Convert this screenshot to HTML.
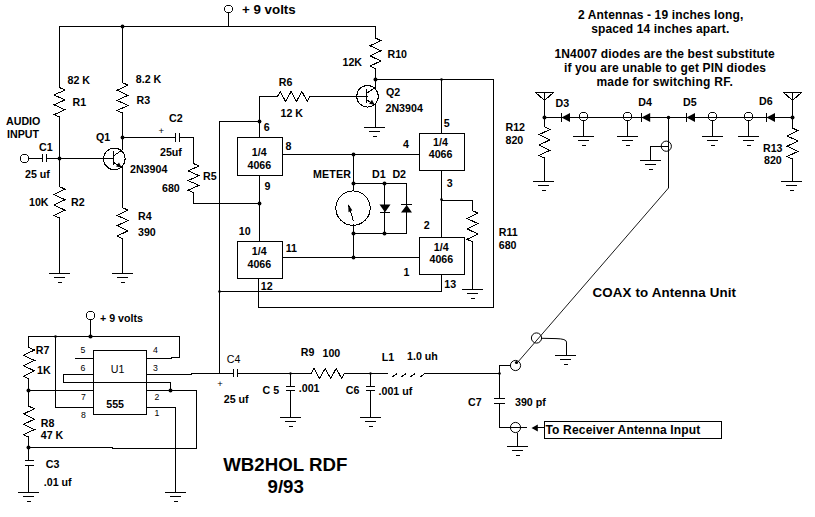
<!DOCTYPE html>
<html><head><meta charset="utf-8"><title>WB2HOL RDF</title>
<style>
html,body{margin:0;padding:0;background:#fff;}
body{width:815px;height:517px;overflow:hidden;}
svg{display:block;}
text{font-family:"Liberation Sans",sans-serif;fill:#000;}
</style></head><body>
<svg width="815" height="517" viewBox="0 0 815 517">
<rect x="0" y="0" width="815" height="517" fill="#fff"/>
<polygon points="581.5,112.5 585.5,112.5 587.5,114.5 587.5,118.5 585.5,120.5 581.5,120.5 579.5,118.5 579.5,114.5" fill="none" stroke="#000" stroke-width="1"/>
<polygon points="625.5,112.5 629.5,112.5 631.5,114.5 631.5,118.5 629.5,120.5 625.5,120.5 623.5,118.5 623.5,114.5" fill="none" stroke="#000" stroke-width="1"/>
<polygon points="710.5,112.5 714.5,112.5 716.5,114.5 716.5,118.5 714.5,120.5 710.5,120.5 708.5,118.5 708.5,114.5" fill="none" stroke="#000" stroke-width="1"/>
<polygon points="746.5,112.5 750.5,112.5 752.5,114.5 752.5,118.5 750.5,120.5 746.5,120.5 744.5,118.5 744.5,114.5" fill="none" stroke="#000" stroke-width="1"/>
<path d="M59.0 26.5L376.0 26.5 M228.5 13.0L228.5 27.0 M59.5 26.0L59.5 88.0 M59.50 87.60L65.00 90.06L54.00 94.97L65.00 99.89L54.00 104.81L65.00 109.72L54.00 114.64L59.50 117.10 M59.5 116.0L59.5 187.0 M59.50 186.60L65.00 189.22L54.00 194.47L65.00 199.72L54.00 204.97L65.00 210.22L54.00 215.47L59.50 218.10 M59.5 217.0L59.5 274.0 M49.0 273.5L70.0 273.5 M54.0 277.5L65.0 277.5 M58.0 282.5L62.0 282.5 M122.5 26.0L122.5 83.0 M122.50 82.60L128.00 85.14L117.00 90.22L128.00 95.31L117.00 100.39L128.00 105.47L117.00 110.56L122.50 113.10 M122.5 112.0L122.5 150.0 M113.5 151.0L113.5 165.0 M113.50 155.90L122.50 149.90 M113.50 162.40L122.50 167.90 M122.5 167.0L122.5 208.0 M122.50 207.60L128.00 210.18L117.00 215.35L128.00 220.52L117.00 225.68L128.00 230.85L117.00 236.02L122.50 238.60 M122.5 238.0L122.5 274.0 M112.0 273.5L133.0 273.5 M117.0 277.5L128.0 277.5 M121.0 282.5L125.0 282.5 M29.0 158.5L43.0 158.5 M42.5 154.0L42.5 162.0 M46.5 154.0L46.5 162.0 M47.0 158.5L114.0 158.5 M122.0 137.5L176.0 137.5 M175.5 133.0L175.5 142.0 M179.5 133.0L179.5 142.0 M180.0 137.5L194.0 137.5 M193.5 137.0L193.5 164.0 M193.50 163.60L199.00 166.02L188.00 170.85L199.00 175.68L188.00 180.52L199.00 185.35L188.00 190.18L193.50 192.60 M193.5 192.0L193.5 204.0 M193.0 203.5L260.0 203.5 M375.5 26.0L375.5 38.0 M375.50 38.10L381.00 40.64L370.00 45.73L381.00 50.81L370.00 55.89L381.00 60.98L370.00 66.06L375.50 68.60 M375.5 68.0L375.5 88.0 M366.5 89.0L366.5 103.0 M366.50 93.30L375.50 87.30 M366.50 99.80L375.50 105.30 M375.5 104.0L375.5 128.0 M364.0 127.5L385.0 127.5 M369.0 131.5L380.0 131.5 M373.0 136.5L377.0 136.5 M310.0 96.5L368.0 96.5 M277.50 96.50L280.21 91.50L285.62 101.50L291.04 91.50L296.46 101.50L301.88 91.50L307.29 101.50L310.00 96.50 M259.0 96.5L278.0 96.5 M259.5 96.0L259.5 138.0 M219.0 121.5L260.0 121.5 M219.5 121.0L219.5 374.0 M259.5 175.0L259.5 242.0 M258.5 278.0L258.5 308.0 M258.0 307.5L494.0 307.5 M493.5 79.0L493.5 308.0 M375.0 79.5L494.0 79.5 M219.0 291.5L442.0 291.5 M441.5 274.0L441.5 292.0 M282.0 154.5L420.0 154.5 M353.5 154.0L353.5 191.0 M353.5 224.0L353.5 258.0 M282.0 257.5L420.0 257.5 M353.0 183.5L407.0 183.5 M353.0 233.5L407.0 233.5 M384.5 183.0L384.5 234.0 M406.5 183.0L406.5 234.0 M353.40 220.90L348.50 204.80 M380.0 212.5L390.0 212.5 M401.0 204.5L412.0 204.5 M441.5 79.0L441.5 134.0 M441.5 170.0L441.5 238.0 M441.0 200.5L473.0 200.5 M472.5 200.0L472.5 211.0 M472.50 210.60L478.00 213.20L467.00 218.41L478.00 223.62L467.00 228.83L478.00 234.04L467.00 239.25L472.50 241.85 M472.5 241.0L472.5 290.0 M462.0 289.5L483.0 289.5 M467.0 293.5L478.0 293.5 M471.0 298.5L475.0 298.5 M90.5 320.0L90.5 337.0 M28.0 336.5L180.0 336.5 M28.5 336.0L28.5 348.0 M28.50 347.40L34.50 350.02L23.50 355.25L34.50 360.48L23.50 365.72L34.50 370.95L23.50 376.18L28.50 378.80 M28.5 378.0L28.5 406.0 M28.50 406.10L34.50 408.70L23.50 413.91L34.50 419.12L23.50 424.33L34.50 429.54L23.50 434.75L28.50 437.35 M28.5 436.0L28.5 461.0 M55.5 336.0L55.5 408.0 M55.0 407.5L94.0 407.5 M179.5 336.0L179.5 358.0 M146.0 358.5L172.0 358.5 M171.0 357.5L180.0 357.5 M75.0 358.5L94.0 358.5 M63.0 374.5L94.0 374.5 M63.5 374.0L63.5 383.0 M63.0 382.5L171.0 382.5 M170.5 382.0L170.5 391.0 M146.0 374.5L192.0 374.5 M191.0 373.5L234.0 373.5 M28.0 390.5L94.0 390.5 M146.0 390.5L197.0 390.5 M196.5 390.0L196.5 449.0 M28.0 447.5L113.0 447.5 M112.0 448.5L197.0 448.5 M146.0 407.5L176.0 407.5 M175.5 407.0L175.5 493.0 M165.0 492.5L186.0 492.5 M170.0 496.5L181.0 496.5 M174.0 501.5L178.0 501.5 M25.0 460.5L34.0 460.5 M25.0 465.5L34.0 465.5 M28.5 465.0L28.5 493.0 M18.0 492.5L39.0 492.5 M23.0 496.5L34.0 496.5 M27.0 501.5L31.0 501.5 M233.5 369.0L233.5 377.0 M237.5 369.0L237.5 377.0 M238.0 373.5L312.0 373.5 M311.25 373.50L314.02 368.50L319.56 378.50L325.10 368.50L330.65 378.50L336.19 368.50L341.73 378.50L344.50 373.50 M344.0 373.5L388.0 373.5 M290.5 373.0L290.5 387.0 M286.0 386.5L295.0 386.5 M286.0 390.5L295.0 390.5 M290.5 390.0L290.5 418.0 M280.0 417.5L301.0 417.5 M285.0 421.5L296.0 421.5 M289.0 426.5L293.0 426.5 M370.5 373.0L370.5 387.0 M366.0 386.5L375.0 386.5 M366.0 390.5L375.0 390.5 M370.5 390.0L370.5 418.0 M360.0 417.5L381.0 417.5 M365.0 421.5L376.0 421.5 M369.0 426.5L373.0 426.5 M392.00 377.10L397.00 373.60 M401.00 377.10L406.00 373.60 M410.00 377.10L415.00 373.60 M420.00 377.10L424.50 373.80 M424.0 373.5L500.0 373.5 M499.5 365.0L499.5 399.0 M499.0 365.5L511.0 365.5 M494.0 398.5L505.0 398.5 M494.0 403.5L505.0 403.5 M499.5 403.0L499.5 428.0 M499.0 427.5L527.0 427.5 M517.5 433.0L517.5 447.0 M507.0 446.5L528.0 446.5 M512.0 450.5L523.0 450.5 M516.0 455.5L520.0 455.5 M537.0 427.5L545.0 427.5 M668.5 117.0L668.5 188.0 M555.0 355.5L576.0 355.5 M560.0 359.5L571.0 359.5 M564.0 364.5L568.0 364.5 M544.0 117.5L793.0 117.5 M535.50 92.50L553.50 92.50L544.50 100.50L535.50 92.50 M544.5 92.0L544.5 118.0 M783.50 92.50L801.50 92.50L792.50 100.50L783.50 92.50 M792.5 92.0L792.5 118.0 M561.5 113.0L561.5 122.0 M641.5 113.0L641.5 122.0 M686.5 113.0L686.5 122.0 M766.5 113.0L766.5 122.0 M579.0 117.5L588.0 117.5 M583.5 121.0L583.5 137.0 M573.0 136.5L594.0 136.5 M578.0 140.5L589.0 140.5 M582.0 145.5L586.0 145.5 M623.0 117.5L632.0 117.5 M627.5 121.0L627.5 137.0 M617.0 136.5L638.0 136.5 M622.0 140.5L633.0 140.5 M626.0 145.5L630.0 145.5 M708.0 117.5L717.0 117.5 M712.5 121.0L712.5 137.0 M702.0 136.5L723.0 136.5 M707.0 140.5L718.0 140.5 M711.0 145.5L715.0 145.5 M744.0 117.5L753.0 117.5 M748.5 121.0L748.5 137.0 M738.0 136.5L759.0 136.5 M743.0 140.5L754.0 140.5 M747.0 145.5L751.0 145.5 M544.5 117.0L544.5 127.0 M544.50 126.85L550.00 129.45L539.00 134.66L550.00 139.87L539.00 145.08L550.00 150.29L539.00 155.50L544.50 158.10 M544.5 157.0L544.5 182.0 M533.0 181.5L554.0 181.5 M538.0 185.5L549.0 185.5 M542.0 190.5L546.0 190.5 M792.5 117.0L792.5 128.0 M792.50 128.10L798.00 130.69L787.00 135.88L798.00 141.06L787.00 146.24L798.00 151.42L787.00 156.61L792.50 159.20 M792.5 158.0L792.5 182.0 M781.0 181.5L802.0 181.5 M786.0 185.5L797.0 185.5 M790.0 190.5L794.0 190.5 M650.0 146.5L669.0 146.5 M650.5 146.0L650.5 161.0 M640.0 160.5L661.0 160.5 M645.0 164.5L656.0 164.5 M649.0 169.5L653.0 169.5" fill="none" stroke="#000" stroke-width="1" shape-rendering="crispEdges"/>
<polygon points="226.5,5.5 230.5,5.5 232.5,7.5 232.5,10.5 230.5,12.5 226.5,12.5 224.5,10.5 224.5,7.5" fill="none" stroke="#000" stroke-width="1"/>
<circle cx="122.5" cy="26.5" r="1.9" fill="#000"/>
<circle cx="122.5" cy="137.5" r="1.9" fill="#000"/>
<circle cx="114.3" cy="158.9" r="10.8" fill="none" stroke="#000" stroke-width="1" shape-rendering="crispEdges"/>
<path transform="translate(0,0.6)" d="M121.5 166.8L116.0 165.8L119.0 161.8Z" fill="#000" stroke="none" stroke-width="1"/>
<polygon points="22.5,154.5 26.5,154.5 28.5,156.5 28.5,160.5 26.5,162.5 22.5,162.5 20.5,160.5 20.5,156.5" fill="none" stroke="#000" stroke-width="1"/>
<circle cx="59.5" cy="158.5" r="1.9" fill="#000"/>
<circle cx="375.5" cy="79.5" r="2" fill="#000"/>
<circle cx="367.5" cy="96.3" r="10.8" fill="none" stroke="#000" stroke-width="1" shape-rendering="crispEdges"/>
<path transform="translate(0,0.6)" d="M374.5 104.2L369.0 103.2L372.0 99.2Z" fill="#000" stroke="none" stroke-width="1"/>
<circle cx="259.5" cy="121.5" r="1.9" fill="#000"/>
<rect x="237.5" y="137.5" width="45.0" height="38.0" fill="none" stroke="#000" stroke-width="1" shape-rendering="crispEdges"/>
<circle cx="259.5" cy="203.5" r="1.9" fill="#000"/>
<rect x="237.5" y="241.5" width="45.0" height="37.0" fill="none" stroke="#000" stroke-width="1" shape-rendering="crispEdges"/>
<circle cx="441.5" cy="79.5" r="1.3" fill="#000"/>
<circle cx="219.5" cy="291.5" r="1.3" fill="#000"/>
<circle cx="353.5" cy="154.5" r="1.9" fill="#000"/>
<circle cx="353.5" cy="183.5" r="2" fill="#000"/>
<circle cx="353.0" cy="208.1" r="17.2" fill="none" stroke="#000" stroke-width="1" shape-rendering="crispEdges"/>
<circle cx="353.5" cy="233.5" r="2" fill="#000"/>
<circle cx="353.5" cy="257.5" r="1.9" fill="#000"/>
<circle cx="384.5" cy="183.5" r="2" fill="#000"/>
<circle cx="384.5" cy="233.5" r="2" fill="#000"/>
<path transform="translate(0,0.6)" d="M348.2 203.6L348.5 211.6L352.3 209.6Z" fill="#000" stroke="none" stroke-width="1"/>
<path transform="translate(0,0.6)" d="M379.5 203.9L390.5 203.9L385 211.6Z" fill="#000" stroke="none" stroke-width="1"/>
<path transform="translate(0,0.6)" d="M401 212L412 212L406.75 204.5Z" fill="#000" stroke="none" stroke-width="1"/>
<rect x="419.5" y="133.5" width="45.0" height="37.0" fill="none" stroke="#000" stroke-width="1" shape-rendering="crispEdges"/>
<circle cx="441.5" cy="199.5" r="1.3" fill="#000"/>
<rect x="419.5" y="237.5" width="45.0" height="37.0" fill="none" stroke="#000" stroke-width="1" shape-rendering="crispEdges"/>
<polygon points="88.5,311.5 92.5,311.5 94.5,313.5 94.5,317.5 92.5,319.5 88.5,319.5 86.5,317.5 86.5,313.5" fill="none" stroke="#000" stroke-width="1"/>
<circle cx="90.5" cy="336.5" r="2.1" fill="#000"/>
<circle cx="55.5" cy="336.5" r="1.3" fill="#000"/>
<circle cx="28.5" cy="390.5" r="2" fill="#000"/>
<circle cx="28.5" cy="447.5" r="2" fill="#000"/>
<rect x="93.5" y="350.5" width="53.0" height="64.0" fill="none" stroke="#000" stroke-width="1" shape-rendering="crispEdges"/>
<circle cx="170.5" cy="390.5" r="2" fill="#000"/>
<circle cx="290.5" cy="373.5" r="1.2" fill="#000"/>
<circle cx="370.5" cy="373.5" r="1.2" fill="#000"/>
<circle cx="499.5" cy="373.5" r="1.3" fill="#000"/>
<circle cx="515.5" cy="365.5" r="5.1" fill="none" stroke="#000" stroke-width="1"/>
<circle cx="515.5" cy="427.5" r="5.1" fill="none" stroke="#000" stroke-width="1"/>
<path transform="translate(0,0.6)" d="M531.5 427.5L537.8 424L537.8 431Z" fill="#000" stroke="none" stroke-width="1"/>
<rect x="544.5" y="421.5" width="177.0" height="17.0" fill="none" stroke="#000" stroke-width="1" shape-rendering="crispEdges"/>
<circle cx="516.5" cy="362.5" r="1.6" fill="#000"/>
<path d="M516.9 363.20000000000005L668.5 188.0" fill="none" stroke="#000" stroke-width="0.9"/>
<circle cx="536.5" cy="338.0" r="5.1" fill="none" stroke="#000" stroke-width="1"/>
<path transform="translate(0,0.6)" d="M542 337.7L556 338Q566.5 338.2 566.5 341.5L566.5 355" fill="none" stroke="#000" stroke-width="1"/>
<circle cx="544.5" cy="117.5" r="2" fill="#000"/>
<circle cx="792.5" cy="117.5" r="2" fill="#000"/>
<circle cx="668.5" cy="117.5" r="1.8" fill="#000"/>
<path d="M561.5 117.5L570 113.0L570 122.0Z" fill="#000"/>
<path d="M641.5 117.5L650.2 113.0L650.2 122.0Z" fill="#000"/>
<path d="M686.5 117.5L695 113.0L695 122.0Z" fill="#000"/>
<path d="M766.5 117.5L775 113.0L775 122.0Z" fill="#000"/>
<circle cx="666.3" cy="146.2" r="5.1" fill="none" stroke="#000" stroke-width="1"/>
<text x="242" y="13.90" font-size="13.33" font-weight="bold" >+ 9 volts</text>
<text x="67.5" y="83.60" font-size="10.67" font-weight="bold" >82 K</text>
<text x="72.5" y="105.60" font-size="10.67" font-weight="bold" >R1</text>
<text x="29" y="206.10" font-size="10.67" font-weight="bold" >10K</text>
<text x="71" y="206.10" font-size="10.67" font-weight="bold" >R2</text>
<text x="135.75" y="83.10" font-size="10.67" font-weight="bold" >8.2 K</text>
<text x="136.5" y="103.60" font-size="10.67" font-weight="bold" >R3</text>
<text x="96" y="141.35" font-size="10.67" font-weight="bold" >Q1</text>
<text x="130" y="173.10" font-size="10.67" font-weight="bold" >2N3904</text>
<text x="138" y="220.10" font-size="10.67" font-weight="bold" >R4</text>
<text x="138" y="236.10" font-size="10.67" font-weight="bold" >390</text>
<text x="6" y="125.10" font-size="10.67" font-weight="bold" >AUDIO</text>
<text x="7" y="138.10" font-size="10.67" font-weight="bold" >INPUT</text>
<text x="39" y="151.35" font-size="10.67" font-weight="bold" >C1</text>
<text x="25" y="178.10" font-size="10.67" font-weight="bold" >25 uf</text>
<text x="158.6" y="134.20" font-size="9.5" font-weight="normal" >+</text>
<text x="169" y="121.60" font-size="10.67" font-weight="bold" >C2</text>
<text x="160" y="156.10" font-size="10.67" font-weight="bold" >25uf</text>
<text x="162" y="191.60" font-size="10.67" font-weight="bold" >680</text>
<text x="203" y="179.85" font-size="10.67" font-weight="bold" >R5</text>
<text x="278.75" y="86.35" font-size="10.67" font-weight="bold" >R6</text>
<text x="280.5" y="116.85" font-size="10.67" font-weight="bold" >12 K</text>
<text x="342.5" y="65.60" font-size="10.67" font-weight="bold" >12K</text>
<text x="387.5" y="58.10" font-size="10.67" font-weight="bold" >R10</text>
<text x="386" y="96.35" font-size="10.67" font-weight="bold" >Q2</text>
<text x="385.5" y="111.85" font-size="10.67" font-weight="bold" >2N3904</text>
<text x="251.75" y="156.10" font-size="10.67" font-weight="bold" >1/4</text>
<text x="247.5" y="168.85" font-size="10.67" font-weight="bold" >4066</text>
<text x="263.75" y="130.60" font-size="10.67" font-weight="bold" >6</text>
<text x="285.5" y="149.85" font-size="10.67" font-weight="bold" >8</text>
<text x="264.5" y="189.85" font-size="10.67" font-weight="bold" >9</text>
<text x="251.75" y="255.10" font-size="10.67" font-weight="bold" >1/4</text>
<text x="247.5" y="268.10" font-size="10.67" font-weight="bold" >4066</text>
<text x="238.75" y="235.10" font-size="10.67" font-weight="bold" >10</text>
<text x="285.75" y="251.85" font-size="10.67" font-weight="bold" >11</text>
<text x="260.75" y="290.10" font-size="10.67" font-weight="bold" >12</text>
<text x="313" y="178.10" font-size="10.67" font-weight="bold" textLength="38" lengthAdjust="spacing">METER</text>
<text x="372" y="178.10" font-size="10.67" font-weight="bold" >D1</text>
<text x="392.4" y="178.10" font-size="10.67" font-weight="bold" >D2</text>
<text x="433" y="146.35" font-size="10.67" font-weight="bold" >1/4</text>
<text x="428.75" y="158.10" font-size="10.67" font-weight="bold" >4066</text>
<text x="443.75" y="126.85" font-size="10.67" font-weight="bold" >5</text>
<text x="403" y="148.10" font-size="10.67" font-weight="bold" >4</text>
<text x="446.75" y="186.85" font-size="10.67" font-weight="bold" >3</text>
<text x="498.75" y="236.35" font-size="10.67" font-weight="bold" >R11</text>
<text x="498.75" y="249.35" font-size="10.67" font-weight="bold" >680</text>
<text x="433.75" y="251.35" font-size="10.67" font-weight="bold" >1/4</text>
<text x="429.5" y="263.10" font-size="10.67" font-weight="bold" >4066</text>
<text x="423.75" y="228.85" font-size="10.67" font-weight="bold" >2</text>
<text x="403.4" y="276.35" font-size="10.67" font-weight="bold" >1</text>
<text x="444.25" y="288.10" font-size="10.67" font-weight="bold" >13</text>
<text x="100" y="321.85" font-size="10.67" font-weight="bold" >+ 9 volts</text>
<text x="80.5" y="353.10" font-size="8.7" font-weight="normal" >5</text>
<text x="80.5" y="371.35" font-size="8.7" font-weight="normal" >6</text>
<text x="81" y="400.10" font-size="8.7" font-weight="normal" >7</text>
<text x="81" y="418.10" font-size="8.7" font-weight="normal" >8</text>
<text x="153" y="353.10" font-size="8.7" font-weight="normal" >4</text>
<text x="153" y="371.35" font-size="8.7" font-weight="normal" >3</text>
<text x="154.5" y="400.10" font-size="8.7" font-weight="normal" >2</text>
<text x="154.5" y="415.60" font-size="8.7" font-weight="normal" >1</text>
<text x="110.75" y="373.10" font-size="10.67" font-weight="normal" >U1</text>
<text x="106.25" y="408.10" font-size="10.67" font-weight="bold" >555</text>
<text x="35.75" y="353.60" font-size="10.67" font-weight="bold" >R7</text>
<text x="37" y="373.85" font-size="10.67" font-weight="bold" >1K</text>
<text x="40.75" y="427.35" font-size="10.67" font-weight="bold" >R8</text>
<text x="40.75" y="439.35" font-size="10.67" font-weight="bold" >47 K</text>
<text x="45.75" y="468.10" font-size="10.67" font-weight="bold" >C3</text>
<text x="43.75" y="486.10" font-size="10.67" font-weight="bold" >.01 uf</text>
<text x="226.75" y="363.10" font-size="10.67" font-weight="normal" >C4</text>
<text x="217.3" y="387.40" font-size="9.5" font-weight="normal" >+</text>
<text x="223.75" y="403.10" font-size="10.67" font-weight="bold" >25 uf</text>
<text x="262.5" y="393.85" font-size="10.67" font-weight="bold" >C 5</text>
<text x="298.75" y="392.35" font-size="10.67" font-weight="bold" >.001</text>
<text x="300.75" y="356.10" font-size="10.67" font-weight="bold" >R9</text>
<text x="322.5" y="356.85" font-size="10.67" font-weight="bold" >100</text>
<text x="345.75" y="393.85" font-size="10.67" font-weight="bold" >C6</text>
<text x="378.5" y="395.10" font-size="10.67" font-weight="bold" >.001 uf</text>
<text x="381.75" y="361.35" font-size="10.67" font-weight="bold" >L1</text>
<text x="407" y="360.10" font-size="10.67" font-weight="bold" >1.0 uh</text>
<text x="545.5" y="434.35" font-size="12" font-weight="bold" textLength="154.8" lengthAdjust="spacing">To Receiver Antenna Input</text>
<text x="468" y="405.60" font-size="10.67" font-weight="bold" >C7</text>
<text x="515" y="406.35" font-size="10.67" font-weight="bold" >390 pf</text>
<text x="592.6" y="297.20" font-size="13.33" font-weight="bold" textLength="143.4" lengthAdjust="spacing">COAX to Antenna Unit</text>
<text x="555.5" y="106.85" font-size="10.67" font-weight="bold" >D3</text>
<text x="638.3" y="106.20" font-size="10.67" font-weight="bold" >D4</text>
<text x="683" y="106.20" font-size="10.67" font-weight="bold" >D5</text>
<text x="759" y="105.10" font-size="10.67" font-weight="bold" >D6</text>
<text x="505.5" y="131.10" font-size="10.67" font-weight="bold" >R12</text>
<text x="505.5" y="144.35" font-size="10.67" font-weight="bold" >820</text>
<text x="763" y="152.40" font-size="10.67" font-weight="bold" >R13</text>
<text x="764" y="164.00" font-size="10.67" font-weight="bold" >820</text>
<text x="577.9" y="18.80" font-size="12" font-weight="bold" textLength="165.4" lengthAdjust="spacing">2 Antennas - 19 inches long,</text>
<text x="591.2" y="33.10" font-size="12" font-weight="bold" textLength="138.1" lengthAdjust="spacing">spaced 14 inches apart.</text>
<text x="554.5" y="57.60" font-size="12" font-weight="bold" textLength="220.3" lengthAdjust="spacing">1N4007 diodes are the best substitute</text>
<text x="563.9" y="71.60" font-size="12" font-weight="bold" textLength="202.1" lengthAdjust="spacing">if you are unable to get PIN diodes</text>
<text x="596.4" y="86.30" font-size="12" font-weight="bold" textLength="136.4" lengthAdjust="spacing">made for switching RF.</text>
<text x="223.25" y="470.60" font-size="18.67" font-weight="bold" >WB2HOL RDF</text>
<text x="267.5" y="493.10" font-size="18.67" font-weight="bold" >9/93</text>
</svg>
</body></html>
